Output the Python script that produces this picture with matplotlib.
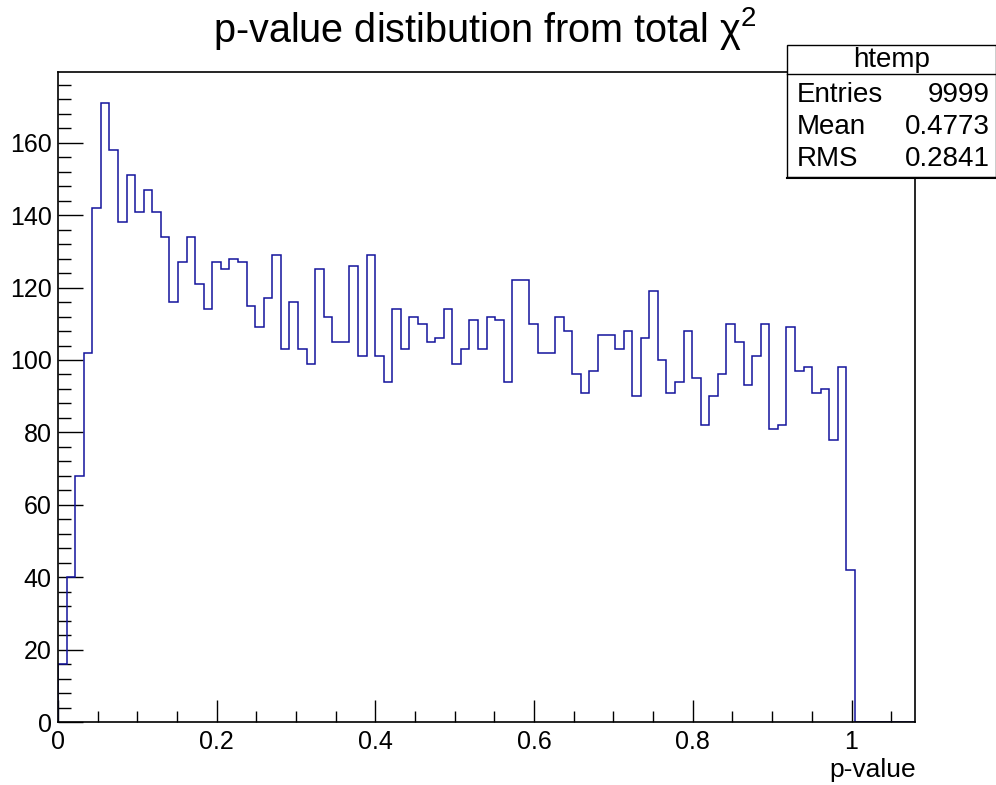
import numpy as np
import matplotlib
matplotlib.use('Agg')
import matplotlib.pyplot as plt
from matplotlib.patches import Rectangle
from matplotlib.ticker import MultipleLocator

plt.rcParams['font.family'] = ['Liberation Sans', 'DejaVu Sans']
plt.rcParams['mathtext.fontset'] = 'custom'
plt.rcParams['mathtext.rm'] = 'Liberation Sans'
plt.rcParams['mathtext.it'] = 'Liberation Sans:italic'

# histogram contents, 100 bins from 0 to 1.08 (htemp)
x_min, x_max, n_bins = 0.0, 1.08, 100
counts = [16, 40, 68, 102, 142, 171, 158, 138, 151, 141,
          147, 141, 134, 116, 127, 134, 121, 114, 127, 125,
          128, 127, 115, 109, 117, 129, 103, 116, 103, 99,
          125, 112, 105, 105, 126, 101, 129, 101, 94, 114,
          103, 112, 110, 105, 106, 114, 99, 103, 111, 103,
          112, 111, 94, 122, 122, 110, 102, 102, 112, 108,
          96, 91, 97, 107, 107, 103, 108, 90, 106, 119,
          100, 91, 94, 108, 95, 82, 90, 96, 110, 105,
          93, 101, 110, 81, 82, 109, 97, 98, 91, 92,
          78, 98, 42, 0, 0, 0, 0, 0, 0, 0]
stat_names = ['Entries', 'Mean', 'RMS']
stat_values = ['9999', '0.4773', '0.2841']

W, H = 996, 785
fig = plt.figure(figsize=(W / 100, H / 100), dpi=100)
ax = fig.add_axes([58 / W, 1 - 722 / H, (915 - 58) / W, (722 - 72) / H])

edges = np.linspace(x_min, x_max, n_bins + 1)
ax.stairs(counts, edges, color='#14149c', linewidth=1.1, baseline=0, zorder=2)

ax.set_xlim(x_min, x_max)
ax.set_ylim(0, max(counts) * 1.05)

ax.xaxis.set_major_locator(MultipleLocator(0.2))
ax.xaxis.set_minor_locator(MultipleLocator(0.05))
ax.yaxis.set_major_locator(MultipleLocator(20))
ax.yaxis.set_minor_locator(MultipleLocator(4))
ax.xaxis.set_major_formatter(matplotlib.ticker.FuncFormatter(lambda v, p: f'{v:g}'))

ax.tick_params(axis='both', which='both', direction='in', top=False, right=False,
               labelsize=18, color='black')
ax.tick_params(axis='y', which='major', length=18, width=1, pad=4.5)
ax.tick_params(axis='y', which='minor', length=9, width=1)
ax.tick_params(axis='x', which='major', length=15.5, width=1, pad=5.5)
ax.tick_params(axis='x', which='minor', length=8, width=1)
for s in ax.spines.values():
    s.set_linewidth(1.2)
    s.set_zorder(3)

fig.text(916 / W, 1 - 777 / H, 'p-value', ha='right', va='baseline', fontsize=19)
fig.text(485 / W, 1 - 28 / H, r'p-value distibution from total $\mathrm{\chi}^{2}$',
         ha='center', va='center', fontsize=28.5)

# stats box
bx0, bx1, by0, by1 = 787, 996, 45, 177
fig.patches.append(Rectangle((bx0 / W, 1 - by1 / H), (bx1 - bx0) / W, (by1 - by0) / H,
                             transform=fig.transFigure, facecolor='white',
                             edgecolor='black', linewidth=1.0, zorder=5))
fig.add_artist(plt.Line2D([bx0 / W, bx1 / W], [1 - 74 / H, 1 - 74 / H],
                          transform=fig.transFigure, color='black', linewidth=1.0, zorder=6))
fig.add_artist(plt.Line2D([bx0 / W, bx1 / W], [1 - 178 / H, 1 - 178 / H],
                          transform=fig.transFigure, color='black', linewidth=1.5, zorder=6))
fig.text((bx0 + bx1) / 2 / W, 1 - 60 / H, 'htemp', ha='center', va='center',
         fontsize=20, zorder=7)
for i, (name, val) in enumerate(zip(stat_names, stat_values)):
    y = 1 - (95 + 32 * i) / H
    fig.text(797 / W, y, name, ha='left', va='center', fontsize=20, zorder=7)
    fig.text(990 / W, y, val, ha='right', va='center', fontsize=20, zorder=7)

fig.savefig('out.png', dpi=100)
